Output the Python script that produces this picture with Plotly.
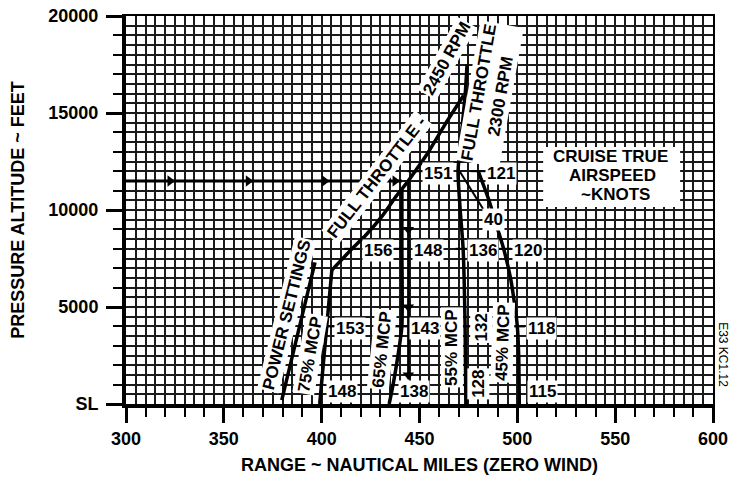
import plotly.graph_objects as go

# ---------------- data (range in nautical miles, altitude in feet) ----------------
# power-settings leader line
pwr_nm = [379.6, 396.6]
pwr_ft = [200, 7300]

# 75% MCP line, running into the full-throttle 2450 RPM curve
mcp75_nm = [399.0, 402.5, 405.2]
mcp75_ft = [0, 4000, 6900]

ft2450_nm = [405.2, 415.5, 422.5, 431.0, 438.0, 444.3, 447.8, 454.0, 463.0, 472.5]
ft2450_ft = [6900, 8000, 8700, 9700, 10700, 11500, 12000, 12900, 14400, 15900]

# 65% MCP
mcp65_nm = [434.5, 436.5, 439.0, 441.0, 441.0, 441.0]
mcp65_ft = [0, 1000, 2500, 4000, 8000, 11100]

# full throttle 2300 RPM continuing as 55% MCP
mcp55_nm = [474.3, 473.3, 471.5, 469.7, 470.8, 472.3, 473.3, 473.7]
mcp55_ft = [17500, 15900, 14000, 12000, 10000, 8000, 4000, 0]

# 45% MCP
mcp45_nm = [480.0, 485.5, 490.0, 493.0, 496.5, 498.8, 500.0, 500.7, 501.0]
mcp45_ft = [12000, 10500, 9000, 8000, 6500, 5000, 4000, 2500, 0]

# short connector toward the 140 kt label
diag_nm = [470.5, 483.5]
diag_ft = [12000, 9900]

# example: cruise at 11,500 ft, then descent path
route_nm = [300, 441]
route_ft = [11500, 11500]
route_arrow_nm = [322.5, 362.5, 401.5, 437.5]
descent_nm = [444.3, 444.3]
descent_ft = [11500, 1300]
descent_arrow_ft = [9000, 5000, 1500]

# cruise true airspeed (knots) read at fixed altitudes on each curve
tas_txt = ["156", "148", "136", "120", "153", "143", "118", "151", "121"]
tas_nm = [415.5, 441.0, 472.3, 493.0, 402.5, 441.0, 500.0, 447.8, 480.0]
tas_ft = [8000, 8000, 8000, 8000, 4000, 4000, 4000, 12000, 12000]
tas_shift = [10, 10, 4, 8, 7, 7, 9, 7, 7]

# 55% MCP speed at 4000 ft (written vertically)
tas55_txt = "132"
tas55_nm = 473.3
tas55_ft = 4000

# sea-level speeds at the foot of each line
sl_txt = ["148", "138", "128", "115"]
sl_nm = [399.0, 434.5, 473.7, 501.0]
sl_shift = [6, 9, 12, 8]

x_ticks = [300, 350, 400, 450, 500, 550, 600]
y_ticks = [0, 5000, 10000, 15000, 20000]
y_ticktext = ["SL", "5000", "10000", "15000", "20000"]

FONT = "Liberation Sans, Arial, sans-serif"
BLACK = "black"

fig = go.Figure()


def line(nm, ft, width=3.5, spline=False):
    fig.add_trace(go.Scatter(
        x=nm, y=ft, mode="lines",
        line=dict(color=BLACK, width=width, shape="spline" if spline else "linear",
                  smoothing=0.6),
        hoverinfo="skip", showlegend=False))


line(pwr_nm, pwr_ft)
line(mcp75_nm, mcp75_ft)
line(ft2450_nm, ft2450_ft, spline=True)
line(mcp65_nm, mcp65_ft, spline=True)
line(mcp55_nm, mcp55_ft, spline=True)
line(mcp45_nm, mcp45_ft, spline=True)
line(diag_nm, diag_ft, width=2)
line(route_nm, route_ft, width=3)
line(descent_nm, descent_ft, width=2.5)

# arrowheads along the example path
fig.add_trace(go.Scatter(
    x=route_arrow_nm, y=[route_ft[0]] * len(route_arrow_nm), mode="markers",
    marker=dict(symbol="triangle-right", size=10, color=BLACK),
    hoverinfo="skip", showlegend=False))
fig.add_trace(go.Scatter(
    x=[descent_nm[0]] * len(descent_arrow_ft), y=descent_arrow_ft, mode="markers",
    marker=dict(symbol="triangle-down", size=10, color=BLACK),
    hoverinfo="skip", showlegend=False))

# tick marks where the airspeeds are read
fig.add_trace(go.Scatter(
    x=tas_nm + [tas55_nm], y=tas_ft + [tas55_ft], mode="markers",
    marker=dict(symbol="line-ew", size=11, line=dict(width=2, color=BLACK)),
    hoverinfo="skip", showlegend=False))

# empty trace that carries the fine graph-paper grid axes
fig.add_trace(go.Scatter(x=[None], y=[None], xaxis="x2", yaxis="y2",
                         hoverinfo="skip", showlegend=False))

TXT = dict(family=FONT, size=17, color=BLACK, weight="bold")

ann = []
lbl = dict(font=TXT, bgcolor="white", borderpad=1, showarrow=False)

for t, x, y, s in zip(tas_txt, tas_nm, tas_ft, tas_shift):
    ann.append(dict(text=t, x=x, y=y, xanchor="left", yanchor="middle",
                    xshift=s, yshift=-2, **lbl))
ann.append(dict(text=tas55_txt, x=tas55_nm, y=tas55_ft, textangle=-90,
                xanchor="center", yanchor="middle", xshift=16, yshift=-1, **lbl))
for t, x, s in zip(sl_txt, sl_nm, sl_shift):
    if t == "128":
        ann.append(dict(text=t, x=x, y=0, textangle=-90, xanchor="center",
                        yanchor="bottom", xshift=s, yshift=4, **lbl))
    else:
        ann.append(dict(text=t, x=x, y=0, xanchor="left", yanchor="bottom",
                        xshift=s, yshift=1, **lbl))
ann.append(dict(text="40", x=487.6, y=9500, xanchor="center", yanchor="middle", **lbl))

# curve names
big = dict(font=TXT, bgcolor="white", borderpad=1, showarrow=False,
           xanchor="center", yanchor="middle")
ann += [
    dict(text="POWER SETTINGS", x=382.3, y=4600, textangle=-76, **big),
    dict(text="75% MCP", x=394.1, y=2550, textangle=-80, **big),
    dict(text="FULL THROTTLE -", x=428.0, y=11700, textangle=-52, **big),
    dict(text="2450 RPM", x=464.0, y=17800, textangle=-61, **big),
    dict(text="FULL THROTTLE<br>2300 RPM", x=486.0, y=16000, textangle=-80, **big),
    dict(text="65% MCP", x=430.9, y=2800, textangle=-84, **big),
    dict(text="55% MCP", x=466.7, y=2900, textangle=-90, **big),
    dict(text="45% MCP", x=492.7, y=3150, textangle=-88, **big),
]

# caption box
cap = dict(font=TXT, showarrow=False, xanchor="center", yanchor="middle")
ann += [
    dict(text="CRUISE TRUE", x=547.4, y=12750, **cap),
    dict(text="AIRSPEED", x=548.5, y=11800, **cap),
    dict(text="~KNOTS", x=550.0, y=10820, **cap),
]

ann.append(dict(text="E33 KC1.12", xref="paper", yref="paper", x=1.017, y=0.126,
                textangle=90, showarrow=False, xanchor="center", yanchor="middle",
                font=dict(family=FONT, size=12, color=BLACK)))

shapes = [dict(type="rect", x0=513.2, x1=583.2, y0=10150, y1=13250,
               fillcolor="white", line=dict(width=0), layer="above")]

AX_FONT = dict(size=18, family=FONT, weight="bold")

fig.update_layout(
    width=731, height=477,
    margin=dict(l=126, r=18, t=16, b=73),
    paper_bgcolor="white", plot_bgcolor="white",
    font=dict(family=FONT, color=BLACK),
    showlegend=False,
    annotations=ann, shapes=shapes,
    xaxis=dict(
        range=[300, 600], tickvals=x_ticks, ticks="outside", ticklen=15, tickwidth=2.5,
        tickcolor=BLACK, showgrid=False, zeroline=False, showline=True, linewidth=4,
        linecolor=BLACK, tickfont=AX_FONT,
        minor=dict(dtick=10, tick0=300, ticks="outside", ticklen=9, tickwidth=2,
                   tickcolor=BLACK, showgrid=False),
        title=dict(text="RANGE ~ NAUTICAL MILES (ZERO WIND)", font=AX_FONT, standoff=12),
        automargin=False,
    ),
    yaxis=dict(
        range=[0, 20000], tickvals=y_ticks, ticktext=y_ticktext, ticks="outside",
        ticklen=16, tickwidth=2.5, tickcolor=BLACK, showgrid=False, zeroline=False,
        showline=True, linewidth=4, linecolor=BLACK, tickfont=AX_FONT,
        ticklabelstandoff=4,
        minor=dict(dtick=1000, tick0=0, ticks="outside", ticklen=9, tickwidth=2,
                   tickcolor=BLACK, showgrid=False),
        title=dict(text="PRESSURE ALTITUDE ~ FEET", font=AX_FONT, standoff=20),
        automargin=False,
    ),
    xaxis2=dict(
        overlaying="x", side="top", range=[300, 600], tick0=300, dtick=5,
        showgrid=True, gridcolor="#1a1a1a", gridwidth=1.6, showticklabels=False,
        ticks="", zeroline=False, showline=True, linewidth=2, linecolor=BLACK,
    ),
    yaxis2=dict(
        overlaying="y", side="right", range=[0, 20000], tick0=0, dtick=500,
        showgrid=True, gridcolor="#1a1a1a", gridwidth=1.6, showticklabels=False,
        ticks="", zeroline=False, showline=True, linewidth=2, linecolor=BLACK,
    ),
)

fig.write_html("out.html")
